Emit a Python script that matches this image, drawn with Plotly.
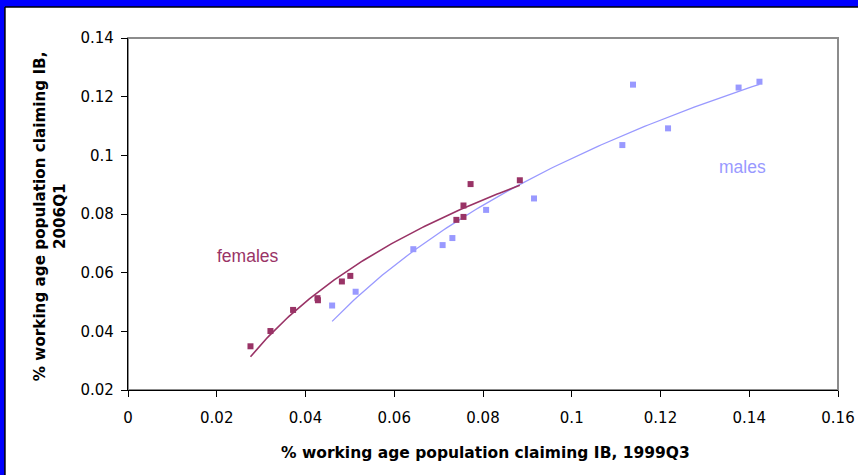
import numpy as np
import plotly.graph_objects as go

# Data
female_x = [0.0276, 0.0321, 0.0372, 0.0427, 0.0428, 0.0482, 0.0501, 0.0740, 0.0756, 0.0756, 0.0772, 0.0883]
female_y = [0.0349, 0.0401, 0.0473, 0.0513, 0.0506, 0.0570, 0.0589, 0.0780, 0.0790, 0.0829, 0.0902, 0.0915]
male_x = [0.0460, 0.0513, 0.0643, 0.0709, 0.0731, 0.0807, 0.0915, 0.1114, 0.1138, 0.1217, 0.1376, 0.1423]
male_y = [0.0488, 0.0535, 0.0680, 0.0694, 0.0718, 0.0814, 0.0853, 0.1035, 0.1241, 0.1092, 0.1231, 0.1251]

x_ticks = [0, 0.02, 0.04, 0.06, 0.08, 0.1, 0.12, 0.14, 0.16]
y_ticks = [0.02, 0.04, 0.06, 0.08, 0.1, 0.12, 0.14]

F_COL = "#993366"
M_COL = "#9999FF"


def log_trend(xs, ys):
    xs = np.asarray(xs)
    ys = np.asarray(ys)
    b, a = np.polyfit(np.log(xs), ys, 1)
    xx = np.linspace(xs.min(), xs.max(), 120)
    return xx, a + b * np.log(xx)


fig = go.Figure()
fx, fy = log_trend(female_x, female_y)
mx, my = log_trend(male_x, male_y)
fig.add_trace(go.Scatter(x=mx, y=my, mode="lines", line=dict(color=M_COL, width=1.3), hoverinfo="skip"))
fig.add_trace(go.Scatter(x=fx, y=fy, mode="lines", line=dict(color=F_COL, width=1.6), hoverinfo="skip"))
fig.add_trace(go.Scatter(x=male_x, y=male_y, mode="markers",
                         marker=dict(symbol="square", size=6, color=M_COL)))
fig.add_trace(go.Scatter(x=female_x, y=female_y, mode="markers",
                         marker=dict(symbol="square", size=6, color=F_COL)))

tick_font = "DejaVu Sans, Verdana, sans-serif"
lab_font = "Liberation Sans, Arial, sans-serif"

fig.update_layout(
    width=858, height=475,
    margin=dict(l=128, r=20, t=38, b=85),
    paper_bgcolor="white", plot_bgcolor="white",
    showlegend=False,
    font=dict(family=tick_font, size=15, color="black"),
    xaxis=dict(range=[0, 0.16], tickvals=x_ticks, ticktext=[f"{v:g}" for v in x_ticks],
               showgrid=False, zeroline=False, showline=True, linecolor="black", linewidth=1.3,
               ticks="outside", ticklen=6, tickcolor="black", tickfont=dict(size=15),
               ticklabelstandoff=8, automargin=False),
    yaxis=dict(range=[0.02, 0.14], tickvals=y_ticks, ticktext=[f"{v:g}" for v in y_ticks],
               showgrid=False, zeroline=False, showline=True, linecolor="black", linewidth=1.3,
               ticks="outside", ticklen=6, tickcolor="black", tickfont=dict(size=15),
               ticklabelstandoff=4, automargin=False),
    shapes=[
        dict(type="rect", xref="paper", yref="paper", x0=0, x1=1, y0=0, y1=1,
             line=dict(color="#8C8C8C", width=2), layer="below"),
        # blue frame (top and left)
        dict(type="rect", xref="paper", yref="paper", x0=-0.2, x1=1.05, y0=1.088, y1=1.12,
             fillcolor="#0000FF", line=dict(width=0)),
        dict(type="rect", xref="paper", yref="paper", x0=-0.2, x1=-0.1733, y0=-0.3, y1=1.12,
             fillcolor="#0000FF", line=dict(width=0)),
        dict(type="line", xref="paper", yref="paper", x0=-0.1733, x1=1.05, y0=1.088, y1=1.088,
             line=dict(color="black", width=1.5)),
        dict(type="line", xref="paper", yref="paper", x0=-0.1733, x1=-0.1733, y0=-0.3, y1=1.088,
             line=dict(color="black", width=1.5)),
    ],
    annotations=[
        dict(text="<b>% working age population claiming IB, 1999Q3</b>", xref="paper", yref="paper",
             x=0.503, y=-0.179, showarrow=False, xanchor="center", yanchor="middle",
             font=dict(size=15.5, family=tick_font)),
        dict(text="<b>% working age population claiming IB,</b>", xref="paper", yref="paper",
             x=-0.1239, y=0.494, showarrow=False, xanchor="center", yanchor="middle", textangle=-90,
             font=dict(size=15.2, family=tick_font)),
        dict(text="<b>2006Q1</b>", xref="paper", yref="paper",
             x=-0.0958, y=0.494, showarrow=False, xanchor="center", yanchor="middle", textangle=-90,
             font=dict(size=15.2, family=tick_font)),
        dict(text="females", x=0.02705, y=0.0657, xref="x", yref="y", showarrow=False,
             font=dict(size=17.5, color=F_COL, family=lab_font)),
        dict(text="males", x=0.1385, y=0.0961, xref="x", yref="y", showarrow=False,
             font=dict(size=17.5, color=M_COL, family=lab_font)),
    ],
)

fig.write_html("out.html")
